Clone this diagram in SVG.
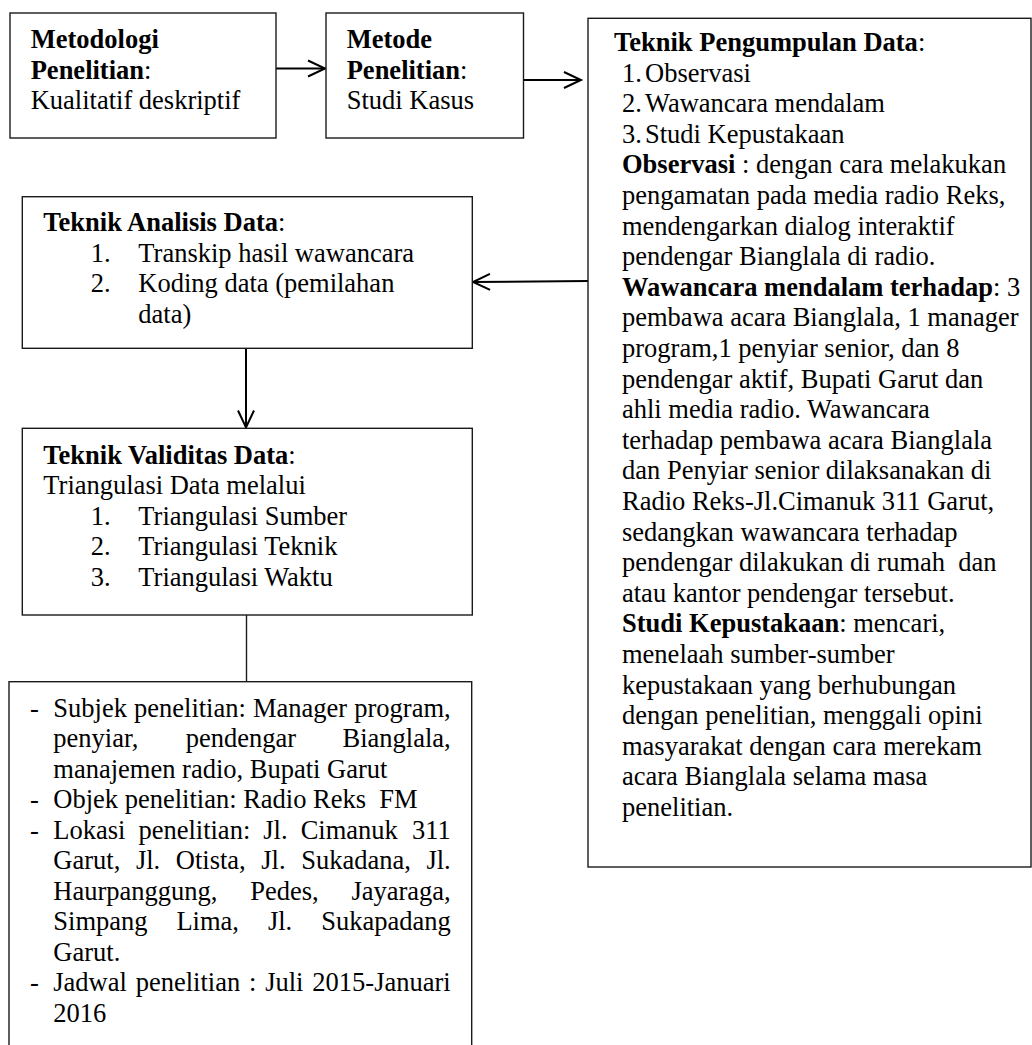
<svg xmlns="http://www.w3.org/2000/svg" width="1032" height="1045" viewBox="0 0 1032 1045">
<style>
text{font-family:"Liberation Serif","Times New Roman",serif;font-size:26.5px;fill:#000;white-space:pre}
.b{font-weight:bold}
.box{fill:#fff;stroke:#1a1a1a;stroke-width:1.4}
.conn{fill:none;stroke:#000;stroke-width:2}
.plain{fill:none;stroke:#1a1a1a;stroke-width:1.4}
</style>
<defs>
<marker id="chev" markerUnits="userSpaceOnUse" markerWidth="22" markerHeight="22" viewBox="0 0 22 22" refX="19" refY="11" orient="auto">
<path d="M2,3 L19,11 L2,19" fill="none" stroke="#000" stroke-width="2"/>
</marker>
</defs>
<rect width="1032" height="1045" fill="#fff"/>

<g id="connectors">
<line class="conn" x1="276" y1="68.5" x2="325" y2="68.5" marker-end="url(#chev)"/>
<line class="conn" x1="523.5" y1="80" x2="581" y2="80" marker-end="url(#chev)"/>
<line class="conn" x1="588" y1="281" x2="473" y2="282" marker-end="url(#chev)"/>
<line class="conn" x1="246" y1="348.5" x2="246" y2="427.5" marker-end="url(#chev)"/>
<line class="plain" x1="246.5" y1="615" x2="246.5" y2="682"/>
</g>

<g id="node-metodologi">
<rect class="box" x="10" y="13" width="266" height="125"/>
<text x="30.7" y="48.3"><tspan class="b">Metodologi</tspan></text>
<text x="30.7" y="78.8"><tspan class="b">Penelitian</tspan>:</text>
<text x="30.7" y="109.3">Kualitatif deskriptif</text>
</g>

<g id="node-metode">
<rect class="box" x="326" y="13" width="197.5" height="125"/>
<text x="346.7" y="48.3"><tspan class="b">Metode</tspan></text>
<text x="346.7" y="78.8"><tspan class="b">Penelitian</tspan>:</text>
<text x="346.7" y="109.3">Studi Kasus</text>
</g>

<g id="node-pengumpulan">
<rect class="box" x="588" y="18.3" width="443" height="848.7"/>
<text x="614" y="51"><tspan class="b">Teknik Pengumpulan Data</tspan>:</text>
<text x="622" y="81.6">1.</text><text x="645" y="81.6">Observasi</text>
<text x="622" y="112.2">2.</text><text x="645" y="112.2">Wawancara mendalam</text>
<text x="622" y="142.8">3.</text><text x="645" y="142.8">Studi Kepustakaan</text>
<text x="622" y="173.4"><tspan class="b">Observasi</tspan> : dengan cara melakukan</text>
<text x="622" y="204">pengamatan pada media radio Reks,</text>
<text x="622" y="234.6">mendengarkan dialog interaktif</text>
<text x="622" y="265.2">pendengar Bianglala di radio.</text>
<text x="622" y="295.8"><tspan class="b">Wawancara mendalam terhadap</tspan>: 3</text>
<text x="622" y="326.4">pembawa acara Bianglala, 1 manager</text>
<text x="622" y="357">program,1 penyiar senior, dan 8</text>
<text x="622" y="387.6">pendengar aktif, Bupati Garut dan</text>
<text x="622" y="418.2">ahli media radio. Wawancara</text>
<text x="622" y="448.8">terhadap pembawa acara Bianglala</text>
<text x="622" y="479.4">dan Penyiar senior dilaksanakan di</text>
<text x="622" y="510">Radio Reks-Jl.Cimanuk 311 Garut,</text>
<text x="622" y="540.6">sedangkan wawancara terhadap</text>
<text x="622" y="571.2">pendengar dilakukan di rumah  dan</text>
<text x="622" y="601.8">atau kantor pendengar tersebut.</text>
<text x="622" y="632.4"><tspan class="b">Studi Kepustakaan</tspan>: mencari,</text>
<text x="622" y="663">menelaah sumber-sumber</text>
<text x="622" y="693.6">kepustakaan yang berhubungan</text>
<text x="622" y="724.2">dengan penelitian, menggali opini</text>
<text x="622" y="754.8">masyarakat dengan cara merekam</text>
<text x="622" y="785.4">acara Bianglala selama masa</text>
<text x="622" y="816">penelitian.</text>
</g>

<g id="node-analisis">
<rect class="box" x="22.3" y="196.7" width="450" height="151.6"/>
<text x="43.3" y="231"><tspan class="b">Teknik Analisis Data</tspan>:</text>
<text x="90.7" y="261.5">1.</text><text x="138.3" y="261.5">Transkip hasil wawancara</text>
<text x="90.7" y="292">2.</text><text x="138.3" y="292">Koding data (pemilahan</text>
<text x="138.3" y="322.5">data)</text>
</g>

<g id="node-validitas">
<rect class="box" x="22.3" y="428.3" width="450" height="186.7"/>
<text x="43.3" y="463.5"><tspan class="b">Teknik Validitas Data</tspan>:</text>
<text x="43.3" y="494">Triangulasi Data melalui</text>
<text x="90.7" y="524.5">1.</text><text x="138.3" y="524.5">Triangulasi Sumber</text>
<text x="90.7" y="555">2.</text><text x="138.3" y="555">Triangulasi Teknik</text>
<text x="90.7" y="585.5">3.</text><text x="138.3" y="585.5">Triangulasi Waktu</text>
</g>

<g id="node-subjek">
<rect class="box" x="9" y="681.7" width="462.7" height="380"/>
<text x="30" y="716.7">-</text>
<text y="716.7"><tspan x="53.3">Subjek</tspan><tspan x="134">penelitian:</tspan><tspan x="253">Manager</tspan><tspan x="450.7" text-anchor="end">program,</tspan></text>
<text y="747.2"><tspan x="53.3">penyiar,</tspan><tspan x="185.7">pendengar</tspan><tspan x="450.7" text-anchor="end">Bianglala,</tspan></text>
<text x="53.3" y="777.7">manajemen radio, Bupati Garut</text>
<text x="30" y="808.2">-</text>
<text x="53.3" y="808.2">Objek penelitian: Radio Reks  FM</text>
<text x="30" y="838.7">-</text>
<text y="838.7"><tspan x="53.3">Lokasi</tspan><tspan x="138.4">penelitian:</tspan><tspan x="263.3">Jl.</tspan><tspan x="300.7">Cimanuk</tspan><tspan x="450.7" text-anchor="end">311</tspan></text>
<text y="869.2"><tspan x="53.3">Garut,</tspan><tspan x="135.9">Jl.</tspan><tspan x="175.8">Otista,</tspan><tspan x="261.3">Jl.</tspan><tspan x="301.2">Sukadana,</tspan><tspan x="450.7" text-anchor="end">Jl.</tspan></text>
<text y="899.7"><tspan x="53.3">Haurpanggung,</tspan><tspan x="250.2">Pedes,</tspan><tspan x="450.7" text-anchor="end">Jayaraga,</tspan></text>
<text y="930.2"><tspan x="53.3">Simpang</tspan><tspan x="176.4">Lima,</tspan><tspan x="267.9">Jl.</tspan><tspan x="450.7" text-anchor="end">Sukapadang</tspan></text>
<text x="53.3" y="960.7">Garut.</text>
<text x="30" y="991.2">-</text>
<text y="991.2"><tspan x="53.3">Jadwal</tspan><tspan x="135.7">penelitian</tspan><tspan x="249">:</tspan><tspan x="265.2">Juli</tspan><tspan x="450.7" text-anchor="end">2015-Januari</tspan></text>
<text x="53.3" y="1021.7">2016</text>
</g>
</svg>
